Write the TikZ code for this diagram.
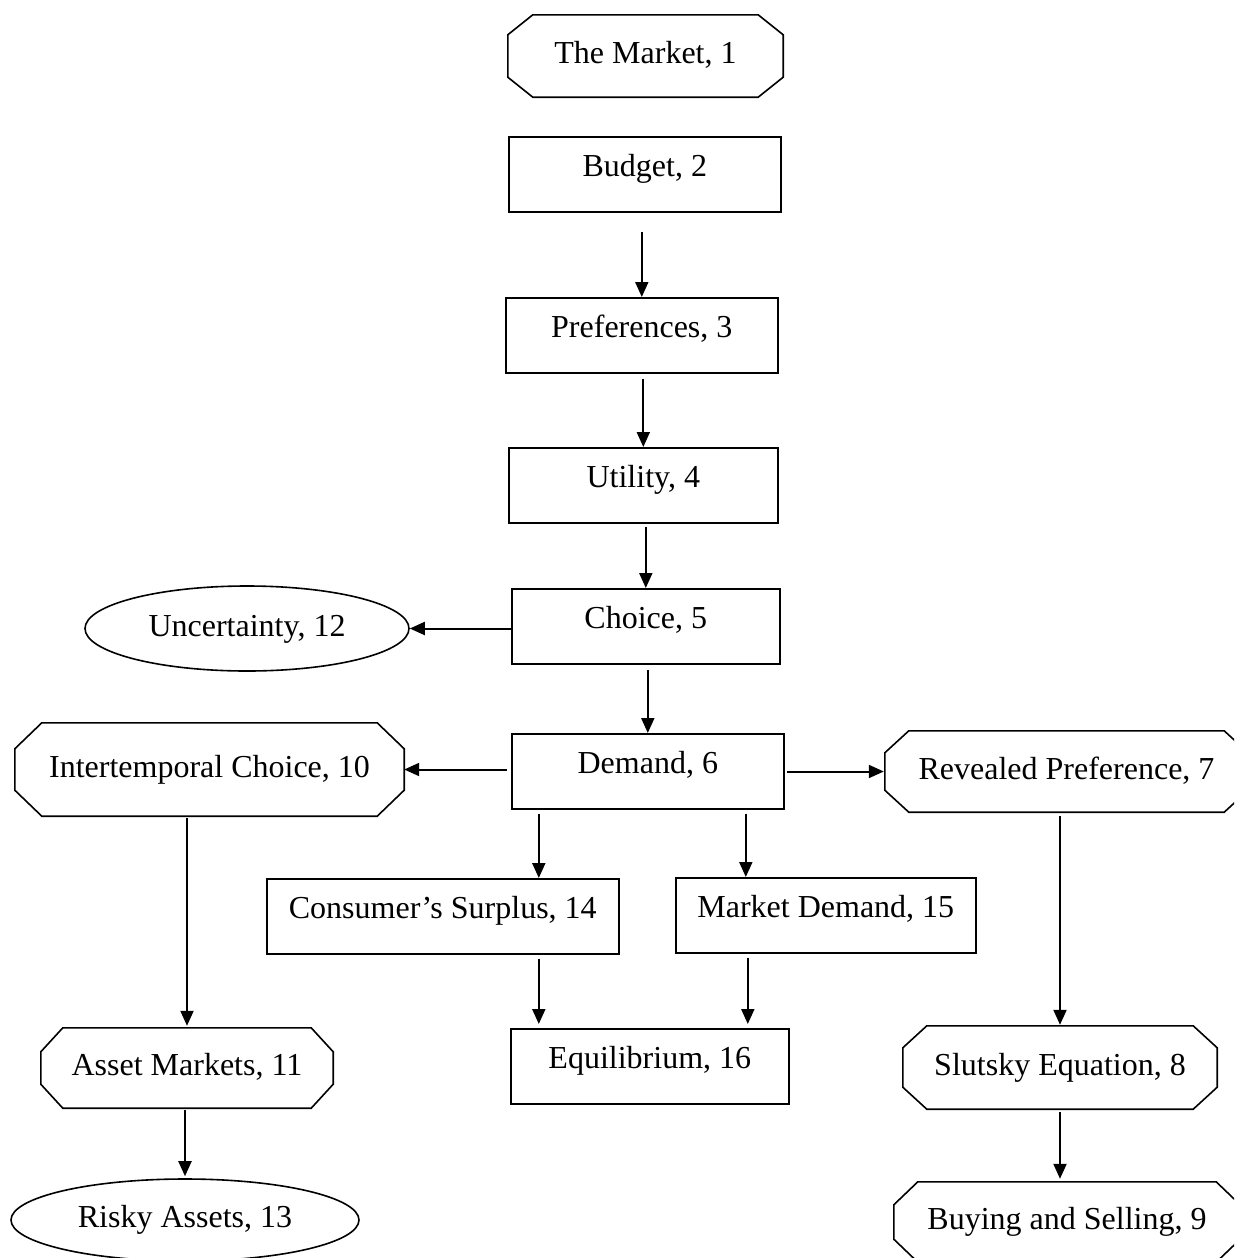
\documentclass[tikz,border=0pt]{standalone}
\usepackage{fontspec}
\setmainfont{Liberation Serif}
\usetikzlibrary{arrows.meta,shapes.geometric}
\newcommand\octpath[3]{%
  \draw[boxline] ([xshift=#2]#1.north west) -- ([xshift=-#2]#1.north east)
    -- ([yshift=-#3]#1.north east) -- ([yshift=#3]#1.south east)
    -- ([xshift=-#2]#1.south east) -- ([xshift=#2]#1.south west)
    -- ([yshift=#3]#1.south west) -- ([yshift=-#3]#1.north west) -- cycle;}
\tikzset{
  txt/.style={font=\fontsize{32}{36}\selectfont, inner sep=0pt},
  boxline/.style={line width=1.6pt, black},
  rbox/.style={txt, draw, boxline, anchor=north west, text height=40pt, text depth=35pt, minimum height=75pt},
  ocbox/.style={txt, anchor=center, text height=22pt, text depth=7pt},
  ell/.style={txt, draw, boxline, ellipse, anchor=center, text height=22pt, text depth=7pt},
  arr/.style={-{Triangle[length=15pt,width=13pt]}, line width=2pt},
}
\begin{document}
\begin{tikzpicture}[x=1pt,y=-1pt]
\useasboundingbox (0,0) rectangle (1234,1258);
\clip (0,0) rectangle (1234,1258);
\fill[white] (0,0) rectangle (1234,1258);

% rectangles
\node[rbox, minimum width=272pt] (budget) at (508,136) {Budget, 2};
\node[rbox, minimum width=272pt] (pref) at (505,297) {Preferences, 3};
\node[rbox, minimum width=269pt] (util) at (508,447) {Utility, 4};
\node[rbox, minimum width=268pt] (choice) at (511,588) {Choice, 5};
\node[rbox, minimum width=272pt] (demand) at (511,733) {Demand, 6};
\node[rbox, minimum width=352pt] (cs) at (266,878) {Consumer’s Surplus, 14};
\node[rbox, minimum width=300pt] (md) at (675,877) {Market Demand, 15};
\node[rbox, minimum width=278pt] (eq) at (510,1028) {Equilibrium, 16};

% octagons
\node[ocbox, minimum width=275pt, minimum height=82pt] (market) at (645.5,56) {The Market, 1};
\node[ocbox, minimum width=389pt, minimum height=93pt] (ic) at (209.5,769.5) {Intertemporal Choice, 10};
\node[ocbox, minimum width=363pt, minimum height=81pt] (rp) at (1066.5,771.5) {Revealed Preference, 7};
\node[ocbox, minimum width=292pt, minimum height=80pt] (asset) at (187,1068) {Asset Markets, 11};
\node[ocbox, minimum width=314pt, minimum height=83pt] (slutsky) at (1060,1067.5) {Slutsky Equation, 8};
\node[ocbox, minimum width=346pt, minimum height=80pt] (buy) at (1067,1222) {Buying and Selling, 9};
\octpath{market}{25pt}{20pt}
\octpath{ic}{27pt}{26pt}
\octpath{rp}{24pt}{22pt}
\octpath{asset}{22pt}{24pt}
\octpath{slutsky}{24pt}{22pt}
\octpath{buy}{24pt}{23pt}

% ellipses
\node[ell, minimum width=324pt, minimum height=85pt] (unc) at (247,628.5) {Uncertainty, 12};
\node[ell, minimum width=348pt, minimum height=82pt] (risky) at (185,1220) {Risky Assets, 13};

% helper coordinates for offset connectors
\path ([xshift=96pt]cs.north) coordinate (csin);
\path ([xshift=-80pt]md.north) coordinate (mdin);
\path ([xshift=-111pt]eq.north) coordinate (eqL);
\path ([xshift=98pt]eq.north) coordinate (eqR);

% connectors
\draw[arr, shorten <=19pt] (budget.south -| pref.north) -- (pref.north);
\draw[arr, shorten <=5pt] (pref.south -| util.north) -- (util.north);
\draw[arr, shorten <=3pt] (util.south -| choice.north) -- (choice.north);
\draw[arr, shorten <=5pt] (choice.south -| demand.north) -- (demand.north);
\draw[arr] (choice.west |- unc.east) -- (unc.east);
\draw[arr, shorten <=4pt] (demand.west |- ic.east) -- (ic.east);
\draw[arr, shorten <=2pt, shorten >=1pt] (demand.east |- rp.west) -- (rp.west);
\draw[arr, shorten <=4pt] (demand.south -| csin) -- (csin);
\draw[arr, shorten <=4pt] (demand.south -| mdin) -- (mdin);
\draw[arr, shorten <=4pt, shorten >=4pt] (cs.south -| eqL) -- (eqL);
\draw[arr, shorten <=4pt, shorten >=4pt] (md.south -| eqR) -- (eqR);
\draw[arr, shorten <=2pt, shorten >=2pt] (ic.south -| asset.north) -- (asset.north);
\draw[arr, shorten <=2pt, shorten >=2pt] (asset.south -| risky.north) -- (risky.north);
\draw[arr, shorten <=4pt, shorten >=1pt] (rp.south -| slutsky.north) -- (slutsky.north);
\draw[arr, shorten <=3pt, shorten >=3pt] (slutsky.south) -- (slutsky.south |- buy.north);
\end{tikzpicture}
\end{document}
